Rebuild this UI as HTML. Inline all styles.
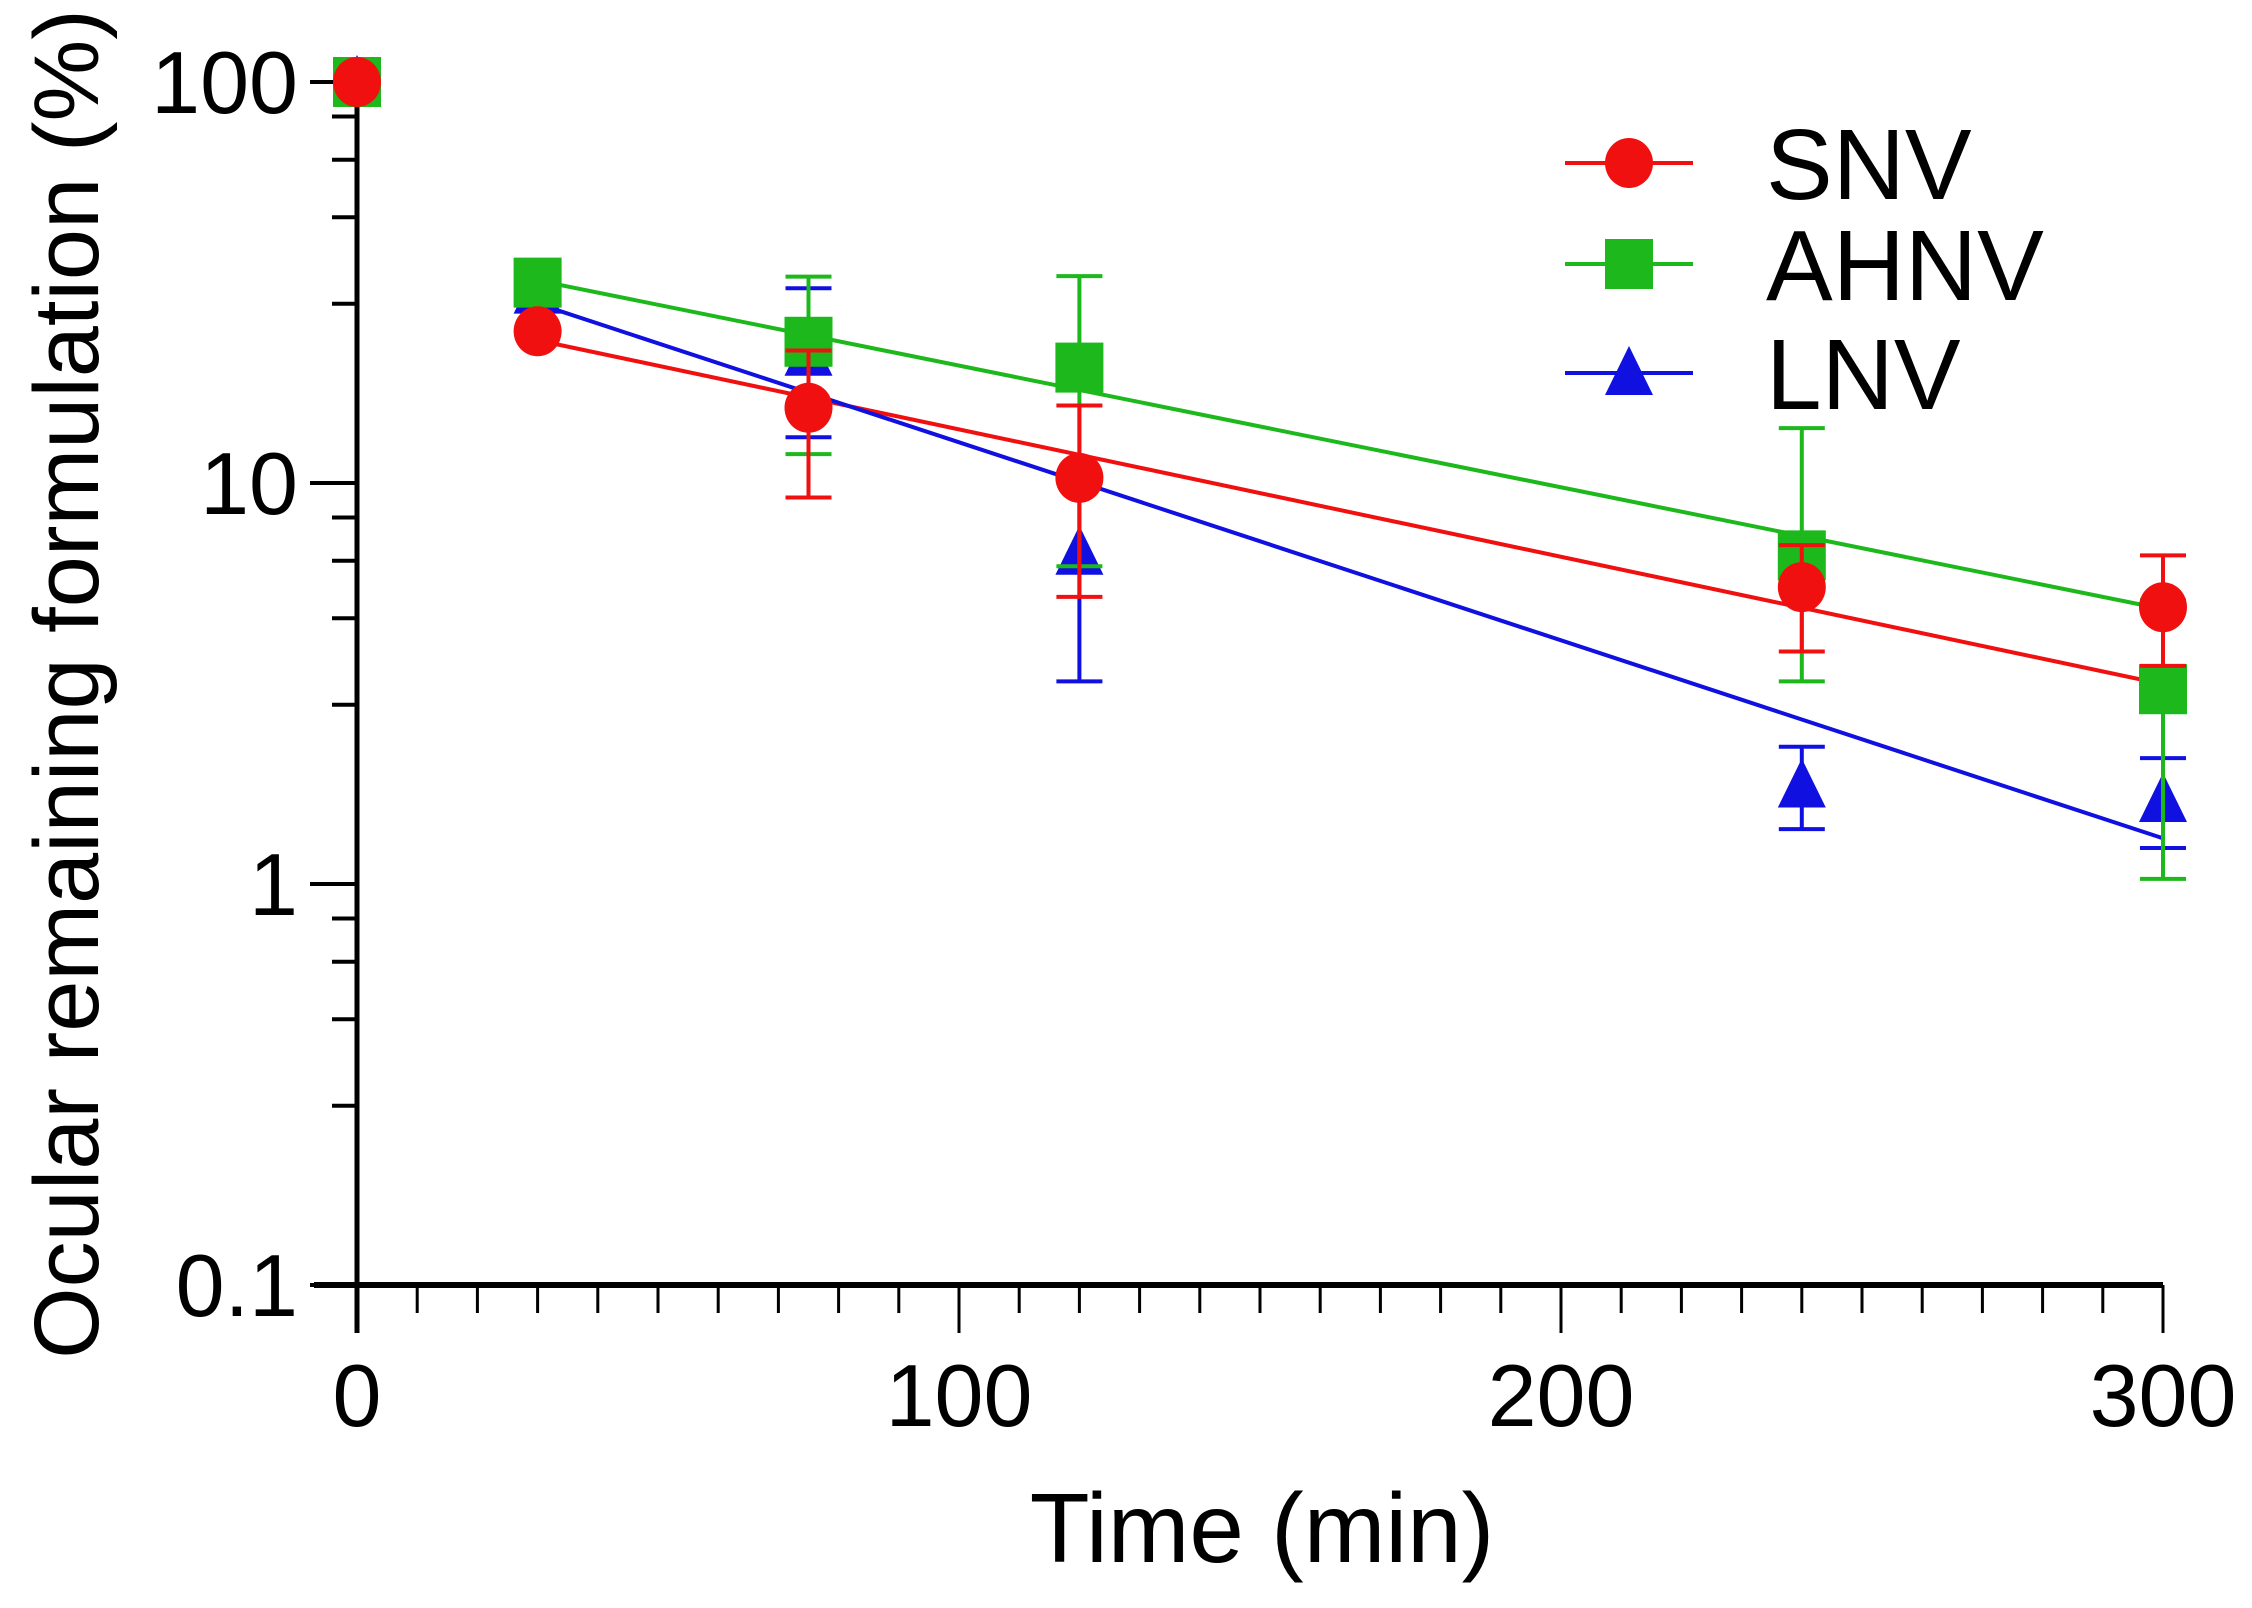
<!DOCTYPE html>
<html><head><meta charset="utf-8"><style>
html,body{margin:0;padding:0;background:#fff}
svg{display:block}
text{font-family:"Liberation Sans",Arial,sans-serif;fill:#000}
</style></head><body>
<svg id="chart" width="2252" height="1608" viewBox="0 0 2252 1608" xmlns="http://www.w3.org/2000/svg">
<g id="axes"></g>
<g id="plot"></g>
<g id="legend"></g>
<text x="1262" y="1562" font-size="98" text-anchor="middle">Time (min)</text>
<text transform="translate(98,684) rotate(-90)" font-size="92" text-anchor="middle">Ocular remaining formulation (%)</text>
</svg>
<script>
const times = [0, 30, 75, 120, 240, 300];
const seriesNames = ["LNV", "AHNV", "SNV"];
const snvMean = [100, 23.9, 15.4, 10.3, 5.5, 4.9];
const snvUpper = [100, 23.9, 21.4, 15.6, 7.0, 6.6];
const snvLower = [100, 23.9, 9.2, 5.2, 3.8, 3.5];
const ahnvMean = [100, 31.6, 22.5, 19.4, 6.6, 3.06];
const ahnvUpper = [100, 31.6, 32.7, 32.8, 13.7, 5.1];
const ahnvLower = [100, 31.6, 11.8, 6.2, 3.2, 1.03];
const lnvMean = [100, 30, 21, 6.7, 1.76, 1.62];
const lnvUpper = [100, 30, 30.6, 10.2, 2.2, 2.06];
const lnvLower = [100, 30, 13.0, 3.2, 1.37, 1.23];
const fitTimes = [30, 300];
const snvFit = [22.7, 3.15];
const ahnvFit = [32, 4.85];
const lnvFit = [28, 1.3];
const xTicks = [0, 100, 200, 300];
const xTickLabels = ["0", "100", "200", "300"];
const yTicks = [0.1, 1, 10, 100];
const yTickLabels = ["0.1", "1", "10", "100"];
const yMinorFactors = [2.8, 4.6, 6.4, 8.2];

const NS = "http://www.w3.org/2000/svg";
const X0 = 357, X1 = 2163, Y100 = 82, DEC = 401;
function xs(t){ return X0 + (t/300)*(X1-X0); }
function ys(v){ return Y100 + (2 - Math.log10(v))*DEC; }
function mk(tag, attrs, parent){
  const e = document.createElementNS(NS, tag);
  for (const k in attrs) e.setAttribute(k, attrs[k]);
  parent.appendChild(e); return e;
}
const axes = document.getElementById('axes');
const plot = document.getElementById('plot');
const legend = document.getElementById('legend');
const YB = ys(0.1);

let a = mk('line', {x1:X0, y1:ys(100), x2:X0, y2:YB+48, stroke:'#000','stroke-width':5}, axes);


a = mk('line', {x1:314, y1:YB, x2:X1, y2:YB, stroke:'#000','stroke-width':6}, axes);



for (let t = 10; t < 300; t += 10) {
  if (xTicks.indexOf(t) >= 0) continue;
  const l = mk('line', {x1:xs(t), y1:YB, x2:xs(t), y2:YB+28, stroke:'#000','stroke-width':3}, axes);
  
  
}
xTicks.forEach((t, i) => {
  const l = mk('line', {x1:xs(t), y1:YB, x2:xs(t), y2:YB+48, stroke:'#000','stroke-width':3}, axes);
  
  
  const tx = mk('text', {x:xs(t), y:1426, 'font-size':88, 'text-anchor':'middle'}, axes);
  tx.textContent = xTickLabels[i];
  
  
});
yTicks.forEach((v, i) => {
  const l = mk('line', {x1:310, y1:ys(v), x2:X0, y2:ys(v), stroke:'#000','stroke-width':4}, axes);
  
  
  const tx = mk('text', {x:298, y:ys(v)+31, 'font-size':88, 'text-anchor':'end'}, axes);
  tx.textContent = yTickLabels[i];
  
  
  if (i < yTicks.length - 1) {
    yMinorFactors.forEach(m => {
      const mv = v*m;
      const ml = mk('line', {x1:332, y1:ys(mv), x2:X0, y2:ys(mv), stroke:'#000','stroke-width':4}, axes);
      
      
    });
  }
});

const colors = {SNV:'#f01010', AHNV:'#1cb81c', LNV:'#1010e0'};
const data = {
  SNV:{m:snvMean,u:snvUpper,l:snvLower,f:snvFit,shape:'circle'},
  AHNV:{m:ahnvMean,u:ahnvUpper,l:ahnvLower,f:ahnvFit,shape:'square'},
  LNV:{m:lnvMean,u:lnvUpper,l:lnvLower,f:lnvFit,shape:'triangle'}
};
function marker(shape, cx, cy, col, parent){
  if (shape === 'circle') return mk('ellipse', {cx:cx, cy:cy, rx:24, ry:25, fill:col}, parent);
  if (shape === 'square') return mk('rect', {x:cx-24, y:cy-25, width:48, height:50, fill:col}, parent);
  return mk('polygon', {points:`${cx},${cy-27} ${cx+24},${cy+22} ${cx-24},${cy+22}`, fill:col}, parent);
}
["SNV","AHNV","LNV"].forEach(n => {
  const d = data[n];
  const l = mk('line', {x1:xs(fitTimes[0]), y1:ys(d.f[0]), x2:xs(fitTimes[1]), y2:ys(d.f[1]), stroke:colors[n], 'stroke-width':4}, plot);
  
  
});
seriesNames.forEach(n => {
  const d = data[n], col = colors[n];
  const g = mk('g', {}, plot);
  
  
  times.forEach((t, i) => {
    const x = xs(t);
    if (d.u[i] !== d.l[i]) {
      const eb = mk('path', {d:`M${x},${ys(d.u[i])}V${ys(d.l[i])}M${x-23},${ys(d.u[i])}H${x+23}M${x-23},${ys(d.l[i])}H${x+23}`, stroke:col, 'stroke-width':4, fill:'none'}, g);
      
      
    }
    const p = marker(d.shape, x, ys(d.m[i]), col, g);
    
    
  });
});
const legY = [163, 264, 373];
["SNV","AHNV","LNV"].forEach((n, i) => {
  const g = mk('g', {}, legend);
  
  
  mk('line', {x1:1565, y1:legY[i], x2:1693, y2:legY[i], stroke:colors[n], 'stroke-width':4}, g);
  marker(data[n].shape, 1629, legY[i], colors[n], g);
  const tx = mk('text', {x:1766, y:legY[i]+36, 'font-size':100}, g);
  tx.textContent = n;
});
</script>
</body></html>
